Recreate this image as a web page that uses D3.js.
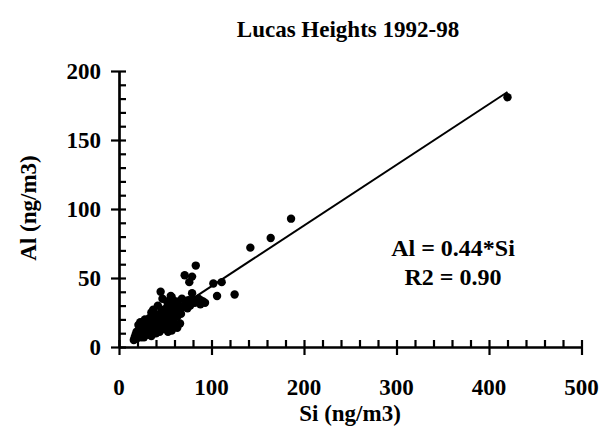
<!DOCTYPE html>
<html>
<head>
<meta charset="utf-8">
<script src="https://cdn.jsdelivr.net/npm/d3@7"></script>
<style>
  body { margin: 0; background: #fff; }
  svg text { font-family: "Liberation Serif", "Times New Roman", serif; font-weight: bold; fill: #000; }
</style>
</head>
<body>
<svg id="chart" width="609" height="427"></svg>
<script>
// valeurs (Si, Al en ng/m3)
var siValues = [
  420, 186, 164, 142, 83, 71, 79, 76, 102, 111, 106, 125, 45, 57, 79, 80, 91, 85,
  74, 66, 37, 52, 63, 66, 57, 44, 34, 28, 23, 19, 17, 26, 39, 48, 42, 35, 56, 53, 24,
  20, 22, 25, 27, 29, 30, 31, 32, 34, 35, 36, 38, 40, 41, 43, 44, 45, 46, 47, 48, 49,
  50, 51, 52, 53, 54, 55, 56, 58, 59, 60, 61, 62, 64, 65, 67, 68, 70, 72, 75, 77, 82,
  86, 88, 18, 21, 24, 26, 28, 33, 37, 39, 42, 47, 50, 55, 60, 63, 16, 19, 23, 27, 30,
  35, 40, 44, 46, 52, 57, 42, 38, 33, 47, 93, 88
];
var alValues = [
  181, 93, 79, 72, 59, 52, 51, 47, 46, 47, 37, 38, 40, 36, 39, 34, 33, 33,
  28, 27, 27, 23, 22, 17, 12, 11, 12, 20, 18, 11, 7, 9, 16, 20, 23, 25, 37, 11, 7,
  10, 13, 12, 15, 11, 14, 17, 13, 16, 19, 14, 18, 21, 17, 19, 24, 16, 22, 18, 26, 21,
  17, 24, 29, 20, 27, 22, 31, 25, 19, 28, 23, 33, 26, 30, 24, 35, 29, 31, 34, 30, 32,
  35, 31, 9, 16, 8, 18, 10, 9, 11, 13, 14, 13, 14, 15, 16, 14, 5, 6, 11, 7, 9,
  8, 10, 13, 27, 33, 30, 30, 24, 21, 35, 32, 34
];
var slope = 0.44;
var fitRange = [15, 420];
var xTicks = [0, 100, 200, 300, 400, 500];
var yTicks = [0, 50, 100, 150, 200];
var xMinor = d3.range(0, 501, 20);
var yMinor = d3.range(0, 201, 10);
var title = "Lucas Heights 1992-98";
var xTitle = "Si (ng/m3)";
var yTitle = "Al (ng/m3)";
var noteLines = ["Al = 0.44*Si", "R2 = 0.90"];

var svg = d3.select("#chart");

var x = d3.scaleLinear().domain([0, 500]).range([119, 581.5]);
var y = d3.scaleLinear().domain([0, 200]).range([347, 71]);

// titre
svg.append("text")
    .attr("x", 348).attr("y", 37)
    .attr("text-anchor", "middle")
    .style("font-size", "23px")
    .text(title);

// graduations secondaires (vers l'intérieur)
svg.append("g")
    .attr("transform", "translate(" + x(0) + ",0)")
    .call(d3.axisRight(y).tickValues(yMinor).tickSize(7).tickSizeOuter(0).tickFormat(""));
svg.append("g")
    .attr("transform", "translate(0," + y(0) + ")")
    .call(d3.axisTop(x).tickValues(xMinor).tickSize(7).tickSizeOuter(0).tickFormat(""));

// graduations principales (croisées)
svg.append("g")
    .attr("transform", "translate(" + x(0) + ",0)")
    .call(d3.axisLeft(y).tickValues(yTicks).tickSize(8).tickSizeOuter(0).tickFormat(""));
svg.append("g")
    .attr("transform", "translate(0," + y(0) + ")")
    .call(d3.axisBottom(x).tickValues(xTicks).tickSize(8).tickSizeOuter(0).tickFormat(""));

svg.selectAll(".domain, .tick line")
    .attr("stroke", "#000")
    .attr("stroke-width", 2.2);

// libellés des axes
svg.selectAll(".ylab")
    .data(yTicks).enter()
    .append("text")
    .attr("x", 101)
    .attr("y", d => y(d) + 8)
    .attr("text-anchor", "end")
    .style("font-size", "23px")
    .text(d => d);

svg.selectAll(".xlab")
    .data(xTicks).enter()
    .append("text")
    .attr("x", d => x(d))
    .attr("y", 395)
    .attr("text-anchor", "middle")
    .style("font-size", "23px")
    .text(d => d);

svg.append("text")
    .attr("x", 350).attr("y", 421)
    .attr("text-anchor", "middle")
    .style("font-size", "23px")
    .text(xTitle);

svg.append("text")
    .attr("transform", "translate(36,208) rotate(-90)")
    .attr("text-anchor", "middle")
    .style("font-size", "23px")
    .text(yTitle);

// droite de régression
svg.append("line")
    .attr("x1", x(fitRange[0])).attr("y1", y(fitRange[0] * slope))
    .attr("x2", x(fitRange[1])).attr("y2", y(fitRange[1] * slope))
    .attr("stroke", "#000")
    .attr("stroke-width", 2);

// points
var points = siValues.map((d, i) => ({ si: d, al: alValues[i] }));
svg.selectAll("circle")
    .data(points).enter()
    .append("circle")
    .attr("cx", d => x(d.si))
    .attr("cy", d => y(d.al))
    .attr("r", 4.2)
    .attr("fill", "#000");

// équation
svg.selectAll(".note")
    .data(noteLines).enter()
    .append("text")
    .attr("x", 453)
    .attr("y", (d, i) => 256 + i * 29)
    .attr("text-anchor", "middle")
    .style("font-size", "24px")
    .text(d => d);
</script>
</body>
</html>
